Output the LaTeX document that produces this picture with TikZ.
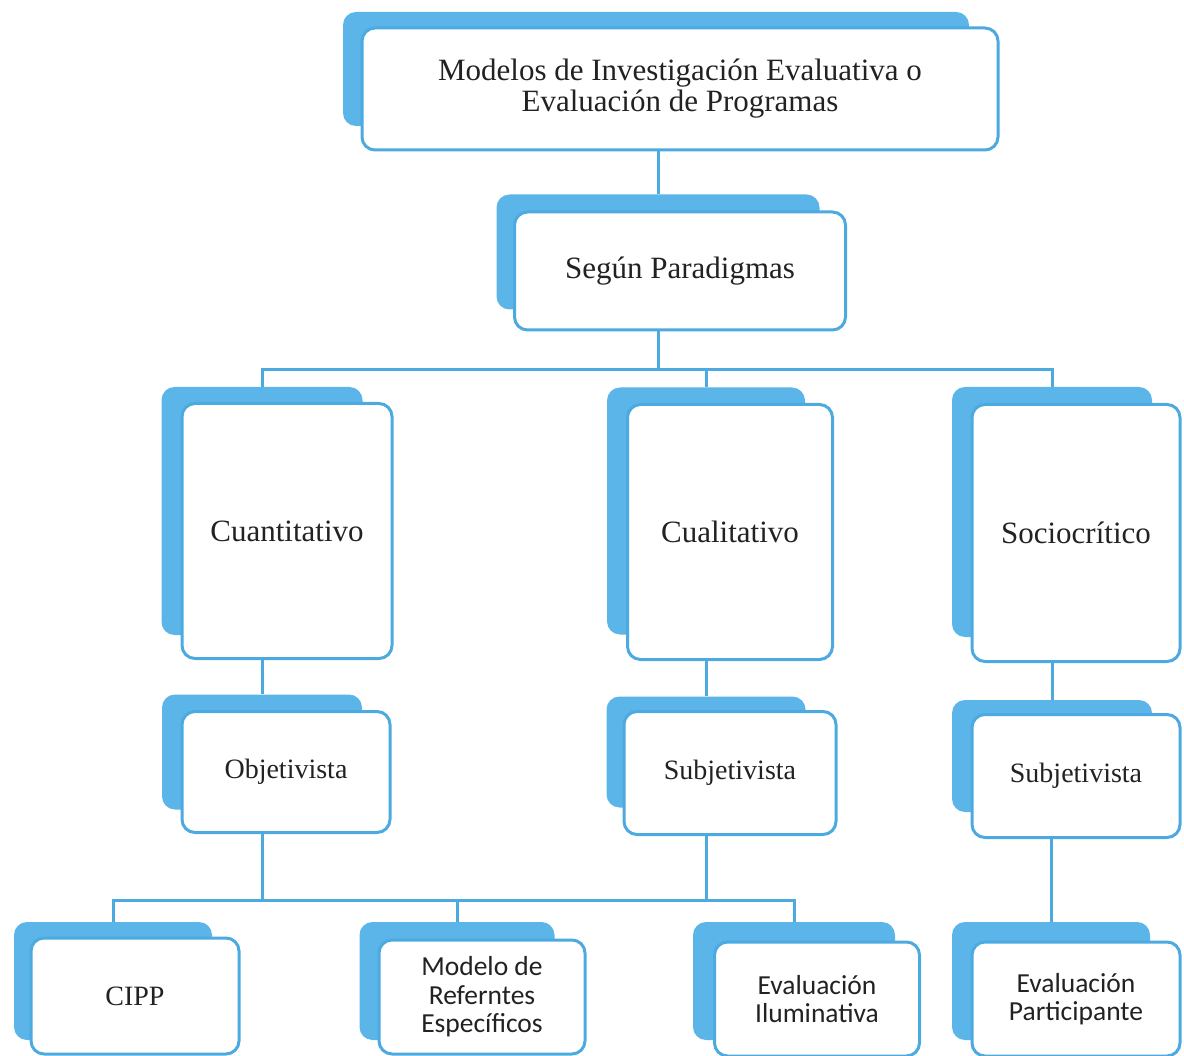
\documentclass[tikz,border=0pt]{standalone}
\usepackage{fontspec}
\setmainfont{Liberation Serif}
\newfontfamily\calfont{Carlito}
\definecolor{skyback}{RGB}{91,181,232}
\definecolor{skyline}{RGB}{76,170,224}
\definecolor{inkgray}{RGB}{34,34,34}
\tikzset{
    backbox/.style={fill=skyback, rounded corners=13pt, inner sep=0pt},
    frontbox/.style={fill=white, draw=skyline, line width=3pt, rounded corners=13pt,
        inner sep=0pt, align=center, text=inkgray},
    serifbig/.style={font=\fontsize{31}{31}\selectfont},
    serifsmall/.style={font=\fontsize{28}{28}\selectfont},
    calibri/.style={font=\calfont\fontsize{27.5}{28.5}\selectfont},
    link/.style={draw=skyline, line width=3pt}
}

\begin{document}
\begin{tikzpicture}[x=1pt, y=-1pt]
        \useasboundingbox (0,0) rectangle (1184,1056);
        % level 0 and 1
        \node[backbox, minimum width=626pt, minimum height=114pt] (top-b) at (656,69) {};
        \node[frontbox, serifbig, minimum width=636pt, minimum height=122pt] (top) at (680,89)
            {Modelos de Investigación Evaluativa o\\Evaluación de Programas};
        \node[backbox, minimum width=323pt, minimum height=115pt] (seg-b) at (658,252) {};
        \node[frontbox, serifbig, minimum width=331pt, minimum height=118pt] (seg) at (680,271) {Según Paradigmas};
        % paradigms
        \node[backbox, minimum width=201pt, minimum height=248pt] (cuan-b) at (262,511) {};
        \node[frontbox, serifbig, minimum width=210pt, minimum height=255pt] (cuan) at (287,531) {Cuantitativo};
        \node[backbox, minimum width=198pt, minimum height=247pt] (cual-b) at (706,511) {};
        \node[frontbox, serifbig, minimum width=205pt, minimum height=255pt] (cual) at (730,532) {Cualitativo};
        \node[backbox, minimum width=200pt, minimum height=250pt] (socio-b) at (1052,512) {};
        \node[frontbox, serifbig, minimum width=208pt, minimum height=257pt] (socio) at (1076,533) {Sociocrítico};
        % approaches
        \node[backbox, minimum width=200pt, minimum height=115pt] (obj-b) at (262,752) {};
        \node[frontbox, serifsmall, minimum width=208pt, minimum height=121pt] (obj) at (286,772) {Objetivista};
        \node[backbox, minimum width=199pt, minimum height=111pt] (subj-b) at (706,752) {};
        \node[frontbox, serifsmall, minimum width=212pt, minimum height=123pt] (subj) at (730,773) {Subjetivista};
        \node[backbox, minimum width=200pt, minimum height=112pt] (subjr-b) at (1052,756) {};
        \node[frontbox, serifsmall, minimum width=208pt, minimum height=123pt] (subjr) at (1076,776) {Subjetivista};
        % models
        \node[backbox, minimum width=198pt, minimum height=118pt] (cipp-b) at (113,981) {};
        \node[frontbox, serifsmall, minimum width=208pt, minimum height=116pt] (cipp) at (135,996) {CIPP};
        \node[backbox, minimum width=195pt, minimum height=118pt] (ref-b) at (457,981) {};
        \node[frontbox, calibri, minimum width=206pt, minimum height=114pt] (ref) at (482,997)
            {Modelo de\\Referntes\\Específicos};
        \node[backbox, minimum width=202pt, minimum height=118pt] (ilum-b) at (794,981) {};
        \node[frontbox, calibri, minimum width=205pt, minimum height=114pt] (ilum) at (817,999)
            {Evaluación\\Iluminativa};
        \node[backbox, minimum width=198pt, minimum height=118pt] (part-b) at (1051,981) {};
        \node[frontbox, calibri, minimum width=208pt, minimum height=114pt] (part) at (1076,999)
            {Evaluación\\Participante};
        % connectors
        \coordinate (bar-up) at (0,370);
        \coordinate (bar-low) at (0,900);
        \draw[link] (seg-b.north |- top.south) -- (seg-b.north);
        \draw[link] (seg-b |- seg.south) -- (seg-b |- bar-up);
        \draw[link] (cuan-b.north) -- (cuan-b |- bar-up) -- (socio-b |- bar-up) -- (socio-b.north);
        \draw[link] (cual-b |- bar-up) -- (cual-b.north);
        \draw[link] (obj-b |- cuan.south) -- (obj-b.north);
        \draw[link] (subj-b |- cual.south) -- (subj-b.north);
        \draw[link] (subjr-b |- socio.south) -- (subjr-b.north);
        \draw[link] (obj-b |- obj.south) -- (obj-b |- bar-low);
        \draw[link] (subj-b |- subj.south) -- (subj-b |- bar-low);
        \draw[link] (cipp-b.north) -- (cipp-b |- bar-low) -- (ilum-b |- bar-low) -- (ilum-b.north);
        \draw[link] (ref-b |- bar-low) -- (ref-b.north);
        \draw[link] (part-b |- subjr.south) -- (part-b.north);
    \end{tikzpicture}
\end{document}
